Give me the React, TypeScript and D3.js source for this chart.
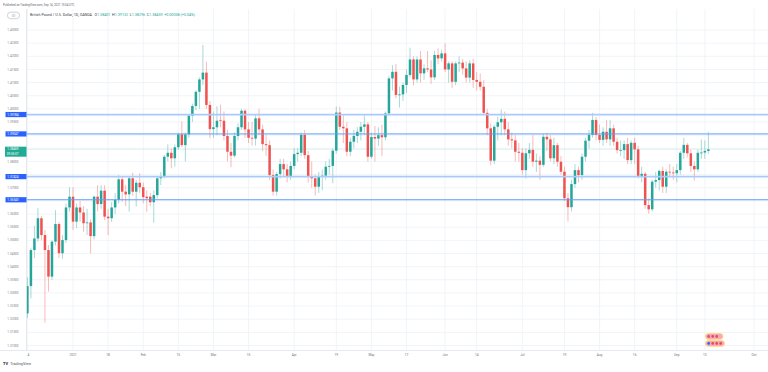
import React, { useRef, useEffect } from 'react';
import * as d3 from 'd3';

// [open, high, low, close] per trading day, GBP/USD daily (OANDA)
type Bar = [number, number, number, number];

const dec2020: Bar[] = [
  [1.3222, 1.3360, 1.3205, 1.3326], [1.3326, 1.3470, 1.3279, 1.3463], [1.3463, 1.3555, 1.3432, 1.3507],
  [1.3507, 1.3622, 1.3495, 1.3584], [1.3584, 1.3592, 1.3500, 1.3520], [1.3520, 1.3539, 1.3187, 1.3463],
  [1.3463, 1.3482, 1.3305, 1.3362], [1.3362, 1.3500, 1.3350, 1.3495], [1.3495, 1.3615, 1.3480, 1.3562],
  [1.3562, 1.3570, 1.3432, 1.3451], [1.3451, 1.3520, 1.3430, 1.3501], [1.3501, 1.3640, 1.3490, 1.3625],
  [1.3625, 1.3702, 1.3610, 1.3666],
];
const jan2021: Bar[] = [
  [1.3666, 1.3702, 1.3539, 1.3571], [1.3571, 1.3640, 1.3546, 1.3625], [1.3625, 1.3650, 1.3570, 1.3606],
  [1.3606, 1.3630, 1.3533, 1.3565], [1.3565, 1.3620, 1.3520, 1.3568], [1.3568, 1.3580, 1.3451, 1.3516],
  [1.3516, 1.3670, 1.3504, 1.3666], [1.3666, 1.3710, 1.3610, 1.3638], [1.3638, 1.3710, 1.3620, 1.3689],
  [1.3689, 1.3710, 1.3577, 1.3590], [1.3590, 1.3620, 1.3520, 1.3584], [1.3584, 1.3645, 1.3570, 1.3625],
  [1.3625, 1.3680, 1.3600, 1.3654], [1.3654, 1.3749, 1.3640, 1.3732], [1.3732, 1.3745, 1.3647, 1.3685],
  [1.3685, 1.3710, 1.3630, 1.3675], [1.3675, 1.3745, 1.3609, 1.3736], [1.3736, 1.3757, 1.3670, 1.3685],
  [1.3685, 1.3730, 1.3628, 1.3719], [1.3719, 1.3755, 1.3680, 1.3702],
];
const feb2021: Bar[] = [
  [1.3702, 1.3720, 1.3641, 1.3664], [1.3666, 1.3690, 1.3609, 1.3660], [1.3666, 1.3680, 1.3630, 1.3645],
  [1.3645, 1.3690, 1.3567, 1.3672], [1.3672, 1.3745, 1.3660, 1.3736], [1.3736, 1.3760, 1.3710, 1.3742],
  [1.3742, 1.3825, 1.3735, 1.3818], [1.3818, 1.3865, 1.3800, 1.3833], [1.3833, 1.3850, 1.3774, 1.3812],
  [1.3812, 1.3865, 1.3780, 1.3854], [1.3854, 1.3910, 1.3845, 1.3903], [1.3903, 1.3952, 1.3855, 1.3862],
  [1.3862, 1.3910, 1.3800, 1.3903], [1.3903, 1.3980, 1.3890, 1.3974], [1.3974, 1.4020, 1.3950, 1.4011],
  [1.4011, 1.4070, 1.3995, 1.4065], [1.4065, 1.4120, 1.4000, 1.4112], [1.4112, 1.4243, 1.4090, 1.4138],
  [1.4138, 1.4180, 1.4000, 1.4015], [1.4015, 1.4030, 1.3888, 1.3923],
];
const mar2021: Bar[] = [
  [1.3923, 1.3990, 1.3890, 1.3930], [1.3930, 1.4010, 1.3900, 1.3955], [1.3958, 1.4015, 1.3930, 1.3955],
  [1.3955, 1.3990, 1.3880, 1.3897], [1.3897, 1.3920, 1.3800, 1.3837], [1.3837, 1.3870, 1.3778, 1.3822],
  [1.3822, 1.3910, 1.3815, 1.3897], [1.3897, 1.3945, 1.3880, 1.3930], [1.3930, 1.4000, 1.3920, 1.3993],
  [1.3993, 1.4000, 1.3890, 1.3922], [1.3922, 1.3950, 1.3870, 1.3890], [1.3890, 1.3950, 1.3860, 1.3887],
  [1.3887, 1.3980, 1.3860, 1.3964], [1.3964, 1.4000, 1.3900, 1.3922], [1.3922, 1.3940, 1.3840, 1.3866],
  [1.3866, 1.3900, 1.3820, 1.3862], [1.3862, 1.3880, 1.3730, 1.3748], [1.3748, 1.3770, 1.3670, 1.3685],
  [1.3685, 1.3760, 1.3670, 1.3752], [1.3752, 1.3810, 1.3735, 1.3790], [1.3790, 1.3810, 1.3740, 1.3770],
  [1.3770, 1.3790, 1.3720, 1.3745], [1.3745, 1.3800, 1.3730, 1.3783],
];
const apr2021: Bar[] = [
  [1.3783, 1.3850, 1.3770, 1.3828], [1.3828, 1.3850, 1.3800, 1.3833], [1.3833, 1.3910, 1.3820, 1.3901],
  [1.3901, 1.3920, 1.3810, 1.3824], [1.3824, 1.3840, 1.3720, 1.3742], [1.3742, 1.3800, 1.3700, 1.3736],
  [1.3736, 1.3750, 1.3670, 1.3704], [1.3704, 1.3760, 1.3680, 1.3742], [1.3742, 1.3770, 1.3690, 1.3746],
  [1.3746, 1.3800, 1.3730, 1.3780], [1.3780, 1.3810, 1.3750, 1.3783], [1.3783, 1.3850, 1.3717, 1.3841],
  [1.3841, 1.4009, 1.3830, 1.3986], [1.3986, 1.4008, 1.3920, 1.3932], [1.3932, 1.3975, 1.3870, 1.3926],
  [1.3926, 1.3950, 1.3820, 1.3837], [1.3837, 1.3890, 1.3820, 1.3875], [1.3875, 1.3920, 1.3850, 1.3897],
  [1.3897, 1.3930, 1.3870, 1.3913], [1.3913, 1.3950, 1.3880, 1.3932], [1.3932, 1.3975, 1.3900, 1.3941],
  [1.3941, 1.3950, 1.3800, 1.3818],
];
const may2021: Bar[] = [
  [1.3818, 1.3910, 1.3810, 1.3893], [1.3893, 1.3935, 1.3800, 1.3887], [1.3887, 1.3930, 1.3860, 1.3900],
  [1.3900, 1.3940, 1.3820, 1.3892], [1.3892, 1.3990, 1.3880, 1.3983], [1.3983, 1.4125, 1.3975, 1.4116],
  [1.4116, 1.4166, 1.4070, 1.4141], [1.4141, 1.4170, 1.4040, 1.4053], [1.4053, 1.4085, 1.4005, 1.4055],
  [1.4055, 1.4100, 1.4030, 1.4091], [1.4091, 1.4150, 1.4060, 1.4129], [1.4129, 1.4233, 1.4120, 1.4188],
  [1.4188, 1.4200, 1.4090, 1.4112], [1.4112, 1.4200, 1.4100, 1.4188], [1.4188, 1.4220, 1.4100, 1.4135],
  [1.4135, 1.4170, 1.4110, 1.4154], [1.4154, 1.4220, 1.4140, 1.4150], [1.4150, 1.4185, 1.4095, 1.4120],
  [1.4120, 1.4220, 1.4110, 1.4205], [1.4205, 1.4230, 1.4170, 1.4192], [1.4192, 1.4225, 1.4180, 1.4211],
];
const jun2021: Bar[] = [
  [1.4211, 1.4249, 1.4140, 1.4150], [1.4150, 1.4180, 1.4100, 1.4173], [1.4173, 1.4180, 1.4080, 1.4103],
  [1.4103, 1.4180, 1.4090, 1.4173], [1.4173, 1.4200, 1.4140, 1.4176], [1.4176, 1.4190, 1.4130, 1.4154],
  [1.4154, 1.4180, 1.4100, 1.4119], [1.4119, 1.4185, 1.4100, 1.4173], [1.4173, 1.4190, 1.4080, 1.4110],
  [1.4110, 1.4140, 1.4070, 1.4103], [1.4103, 1.4135, 1.4070, 1.4084], [1.4084, 1.4110, 1.3980, 1.3985],
  [1.3985, 1.4000, 1.3900, 1.3926], [1.3926, 1.3945, 1.3786, 1.3803], [1.3803, 1.3940, 1.3790, 1.3932],
  [1.3932, 1.3970, 1.3880, 1.3949], [1.3949, 1.3998, 1.3900, 1.3962], [1.3962, 1.3990, 1.3900, 1.3922],
  [1.3922, 1.3950, 1.3860, 1.3884], [1.3884, 1.3910, 1.3850, 1.3880], [1.3880, 1.3900, 1.3800, 1.3837],
  [1.3837, 1.3870, 1.3800, 1.3833],
];
const jul2021: Bar[] = [
  [1.3833, 1.3850, 1.3750, 1.3767], [1.3767, 1.3850, 1.3735, 1.3831], [1.3831, 1.3870, 1.3810, 1.3844],
  [1.3844, 1.3900, 1.3780, 1.3799], [1.3799, 1.3830, 1.3760, 1.3803], [1.3803, 1.3820, 1.3730, 1.3787],
  [1.3787, 1.3905, 1.3780, 1.3894], [1.3894, 1.3910, 1.3840, 1.3884], [1.3884, 1.3900, 1.3800, 1.3812],
  [1.3812, 1.3890, 1.3790, 1.3862], [1.3862, 1.3870, 1.3780, 1.3799], [1.3799, 1.3820, 1.3750, 1.3761],
  [1.3761, 1.3780, 1.3650, 1.3660], [1.3660, 1.3680, 1.3572, 1.3626], [1.3626, 1.3730, 1.3610, 1.3714],
  [1.3714, 1.3790, 1.3700, 1.3767], [1.3767, 1.3780, 1.3720, 1.3748], [1.3748, 1.3830, 1.3730, 1.3818],
  [1.3818, 1.3890, 1.3800, 1.3879], [1.3879, 1.3920, 1.3850, 1.3901], [1.3901, 1.3985, 1.3890, 1.3958],
  [1.3958, 1.3970, 1.3880, 1.3901],
];
const aug2021: Bar[] = [
  [1.3901, 1.3940, 1.3870, 1.3882], [1.3882, 1.3930, 1.3860, 1.3913], [1.3913, 1.3958, 1.3870, 1.3884],
  [1.3884, 1.3958, 1.3860, 1.3926], [1.3926, 1.3940, 1.3860, 1.3875], [1.3875, 1.3890, 1.3830, 1.3843],
  [1.3843, 1.3880, 1.3820, 1.3843], [1.3843, 1.3880, 1.3810, 1.3866], [1.3866, 1.3890, 1.3790, 1.3805],
  [1.3805, 1.3880, 1.3790, 1.3871], [1.3871, 1.3890, 1.3790, 1.3846], [1.3846, 1.3860, 1.3735, 1.3745],
  [1.3745, 1.3780, 1.3720, 1.3753], [1.3753, 1.3760, 1.3620, 1.3634], [1.3634, 1.3660, 1.3602, 1.3618],
  [1.3618, 1.3730, 1.3610, 1.3723], [1.3723, 1.3760, 1.3700, 1.3729], [1.3729, 1.3770, 1.3690, 1.3764],
  [1.3764, 1.3780, 1.3680, 1.3704], [1.3704, 1.3770, 1.3680, 1.3761], [1.3761, 1.3790, 1.3740, 1.3758],
  [1.3758, 1.3780, 1.3730, 1.3755],
];
const sep2021: Bar[] = [
  [1.3755, 1.3790, 1.3720, 1.3767], [1.3767, 1.3840, 1.3750, 1.3833], [1.3833, 1.3890, 1.3810, 1.3863],
  [1.3863, 1.3870, 1.3815, 1.3831], [1.3831, 1.3845, 1.3760, 1.3783], [1.3783, 1.3800, 1.3727, 1.3770],
  [1.3770, 1.3845, 1.3760, 1.3833], [1.3833, 1.3884, 1.3810, 1.3834], [1.3834, 1.3880, 1.3810, 1.38401],
  [1.38401, 1.39132, 1.38296, 1.38459],
];

const candles: Bar[] = [
  ...dec2020, ...jan2021, ...feb2021, ...mar2021, ...apr2021,
  ...may2021, ...jun2021, ...jul2021, ...aug2021, ...sep2021,
];

// time axis: label and the bar index it sits on (Oct 1 is past the last bar)
const timeLabels = ['14', '2021', '18', 'Feb', '15', 'Mar', '15', 'Apr', '19', 'May',
  '17', 'Jun', '14', 'Jul', '19', 'Aug', '16', 'Sep', '13', 'Oct'];
const timeIndex = [0, 13, 23, 33, 43, 53, 63, 76, 88, 98, 108, 119, 128, 141, 153, 163, 173, 185, 193, 207];

// horizontal lines drawn on the chart
const levels = [1.39784, 1.39047, 1.37424, 1.36543];
const levelStrong = [false, true, false, true];

const title = 'British Pound / U.S. Dollar, 1D, OANDA';
const ohlcKeys = ['O', 'H', 'L', 'C'];
const change = '+0.00058 (+0.04%)';
const countdown = '09:55:07';

const W = 768;
const H = 372;
const FONT = 'Roboto, "Liberation Sans", Arial, sans-serif';
const UP = '#26a69a';
const DOWN = '#ef5350';

const App: React.FC = () => {
  const ref = useRef<SVGSVGElement | null>(null);

  useEffect(() => {
    if (!ref.current) return;
    const svg = d3.select<SVGSVGElement, unknown>(ref.current);
    svg.selectAll('*').remove();

    const paneLeft = 26.5;
    const axisY = 350.5;
    const x = d3.scaleLinear().domain([0, 207]).range([27.4, 754]);
    const y = d3.scaleLinear().domain([1.31, 1.43]).range([345.5, 30]);
    const fmt = d3.format('.5f');
    const last = candles[candles.length - 1];
    const ly = y(last[3]);

    svg.append('rect').attr('width', W).attr('height', H).attr('fill', '#fff');

    const defs = svg.append('defs');
    defs.append('clipPath').attr('id', 'pane')
      .append('rect').attr('x', paneLeft).attr('y', 9).attr('width', W - paneLeft).attr('height', axisY - 9);
    defs.append('clipPath').attr('id', 'timeaxis')
      .append('rect').attr('x', 27).attr('y', axisY).attr('width', W - 27).attr('height', 12);

    // grid
    const grid = svg.append('g').attr('clip-path', 'url(#pane)');
    y.ticks(24).forEach(v => {
      grid.append('line')
        .attr('x1', paneLeft).attr('x2', W).attr('y1', y(v)).attr('y2', y(v))
        .attr('stroke', '#eef1f6').attr('stroke-width', 0.8);
    });
    timeIndex.forEach(i => {
      grid.append('line')
        .attr('x1', x(i)).attr('x2', x(i)).attr('y1', 9).attr('y2', axisY)
        .attr('stroke', '#eef1f6').attr('stroke-width', 0.8);
    });

    // candles
    const g = svg.append('g').attr('clip-path', 'url(#pane)');
    const bodyW = 2.5;
    const col = (d: Bar) => (d[3] >= d[0] ? UP : DOWN);

    g.selectAll('line.wick').data(candles).join('line')
      .attr('class', 'wick')
      .attr('x1', (_, i) => x(i)).attr('x2', (_, i) => x(i))
      .attr('y1', d => y(d[1])).attr('y2', d => y(d[2]))
      .attr('stroke', col).attr('stroke-opacity', 0.45).attr('stroke-width', 0.9);

    g.selectAll('rect.body').data(candles).join('rect')
      .attr('class', 'body')
      .attr('x', (_, i) => x(i) - bodyW / 2).attr('width', bodyW)
      .attr('y', d => y(Math.max(d[0], d[3])))
      .attr('height', d => Math.max(0.8, Math.abs(y(d[0]) - y(d[3]))))
      .attr('fill', col);

    // horizontal levels
    levels.forEach((v, k) => {
      g.append('line')
        .attr('x1', paneLeft).attr('x2', W).attr('y1', y(v)).attr('y2', y(v))
        .attr('stroke', levelStrong[k] ? '#5f9ef6' : '#a9cbfb')
        .attr('stroke-width', levelStrong[k] ? 1 : 1.7);
    });

    g.append('line')
      .attr('x1', paneLeft).attr('x2', W).attr('y1', ly).attr('y2', ly)
      .attr('stroke', UP).attr('stroke-opacity', 0.35).attr('stroke-width', 0.8)
      .attr('stroke-dasharray', '1,1');

    // frame lines
    svg.append('line').attr('x1', paneLeft).attr('x2', paneLeft).attr('y1', 9).attr('y2', axisY)
      .attr('stroke', '#e0e3eb').attr('stroke-width', 0.8);
    svg.append('line').attr('x1', 0).attr('x2', W).attr('y1', axisY).attr('y2', axisY)
      .attr('stroke', '#e0e3eb').attr('stroke-width', 0.8);

    // price axis labels (left); labels hidden behind badges are skipped
    const hidden = (py: number) =>
      levels.some(v => Math.abs(y(v) - py) < 4.5) || (py > ly - 6 && py < ly + 9);
    const priceAxis = svg.append('g').attr('font-family', FONT).attr('font-size', 3.1);
    y.ticks(24).filter(v => !hidden(y(v))).forEach(v => {
      priceAxis.append('text')
        .attr('x', 18.6).attr('y', y(v) + 1.1)
        .attr('text-anchor', 'end').attr('fill', '#7d808a')
        .text(fmt(v));
    });

    // level badges
    levels.forEach(v => {
      priceAxis.append('rect')
        .attr('x', 5.5).attr('y', y(v) - 2.6).attr('width', 21).attr('height', 5.2)
        .attr('fill', '#2962ff');
      priceAxis.append('text')
        .attr('x', 18.6).attr('y', y(v) + 1.1)
        .attr('text-anchor', 'end').attr('fill', '#fff')
        .text(fmt(v));
    });

    // last price badge with countdown
    priceAxis.append('rect')
      .attr('x', 5).attr('y', ly - 2.7).attr('width', 21.5).attr('height', 10)
      .attr('fill', '#22ab94');
    priceAxis.append('text')
      .attr('x', 18.6).attr('y', ly + 1.1).attr('text-anchor', 'end').attr('fill', '#fff')
      .text(fmt(last[3]));
    priceAxis.append('text')
      .attr('x', 18.6).attr('y', ly + 5.4).attr('text-anchor', 'end').attr('fill', '#fff')
      .text(countdown);

    // time axis labels
    const timeAxis = svg.append('g').attr('clip-path', 'url(#timeaxis)')
      .attr('font-family', FONT).attr('font-size', 3.2).attr('fill', '#6f727c');
    timeLabels.forEach((t, k) => {
      timeAxis.append('text')
        .attr('x', x(timeIndex[k])).attr('y', 356.4)
        .attr('text-anchor', 'middle').text(t);
    });

    // event markers near the last bars
    const ev = svg.append('g');
    [[705.5, 333.5, 17.5], [705.5, 340.5, 19]].forEach(([ex, ey, ew], k) => {
      ev.append('rect')
        .attr('x', ex).attr('y', ey).attr('width', ew).attr('height', 5.8).attr('rx', 2.9)
        .attr('fill', '#f6a7b9').attr('stroke', '#ffdf73').attr('stroke-width', 0.9);
      d3.range(k === 0 ? 3 : 4).forEach(j => {
        ev.append('circle')
          .attr('cx', ex + 3.2 + j * 4).attr('cy', ey + 2.9).attr('r', 1.3)
          .attr('fill', k === 1 && j === 0 ? '#2962ff' : '#e04a68');
      });
    });

    // header
    const header = svg.append('g').attr('font-family', FONT);
    header.append('text')
      .attr('x', 3).attr('y', 6.2).attr('font-size', 2.9).attr('fill', '#5d606b')
      .text('Published on TradingView.com, Sep 14, 2021 15:04 UTC');

    header.append('rect')
      .attr('x', 7.5).attr('y', 12.2).attr('width', 12).attr('height', 6.5).attr('rx', 3)
      .attr('fill', 'none').attr('stroke', '#b2b5be').attr('stroke-width', 0.6);
    header.append('text')
      .attr('x', 13.5).attr('y', 16.6).attr('font-size', 3).attr('text-anchor', 'middle')
      .attr('fill', '#9598a1').text('30');

    const line2 = header.append('text')
      .attr('x', 30).attr('y', 16.3).attr('font-size', 3.7).attr('fill', '#3c3f4a');
    line2.append('tspan').text(title);
    ohlcKeys.forEach((key, k) => {
      line2.append('tspan').attr('dx', k === 0 ? 2.5 : 1.6).attr('fill', '#3c3f4a').text(key);
      line2.append('tspan').attr('fill', UP).text(fmt(last[k]));
    });
    line2.append('tspan').attr('dx', 1.6).attr('fill', UP).text(change);

    // footer logo
    const footer = svg.append('g').attr('font-family', FONT);
    footer.append('text')
      .attr('x', 3).attr('y', 364.6).attr('font-size', 4).attr('font-weight', 700)
      .attr('fill', '#131722').text('TV');
    footer.append('text')
      .attr('x', 10.2).attr('y', 364.6).attr('font-size', 3.8)
      .attr('fill', '#50535e').text('TradingView');
  }, []);

  return (
    <svg
      ref={ref}
      width={W}
      height={H}
      style={{ position: 'fixed', left: 0, top: 0, display: 'block' }}
    />
  );
};

export default App;
